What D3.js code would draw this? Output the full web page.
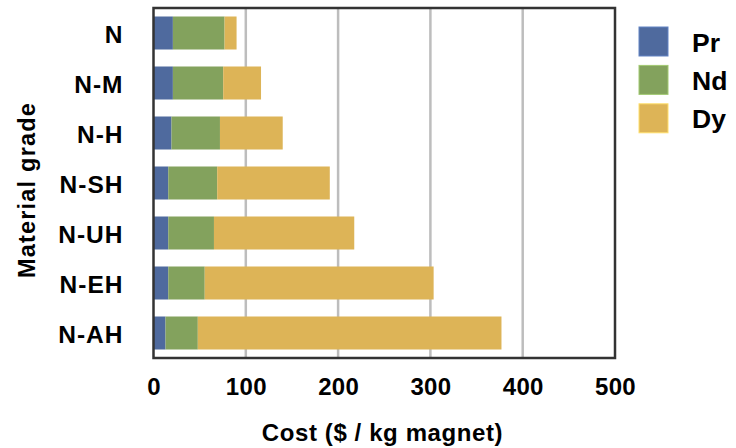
<!DOCTYPE html>
<html>
<head>
<meta charset="utf-8">
<script src="https://cdn.jsdelivr.net/npm/d3@7"></script>
<style>
  html, body { margin: 0; padding: 0; background: #fff; }
  svg { display: block; }
  text { font-family: "Liberation Sans", Arial, Helvetica, sans-serif; font-weight: bold; fill: #000; }
</style>
</head>
<body>
<svg id="chart" width="736" height="448"></svg>
<script>
const categories = ["N", "N-M", "N-H", "N-SH", "N-UH", "N-EH", "N-AH"];
const seriesNames = ["Pr", "Nd", "Dy"];
const prValues = [21, 21, 19.5, 16, 16, 16, 13];
const ndValues = [56, 54.5, 52.5, 53, 49.5, 39.5, 35];
const dyValues = [13, 41, 68, 122, 152, 248, 329];
const xTicks = [0, 100, 200, 300, 400, 500];
const colors = ["#4f6a9e", "#83a25d", "#ddb457"];
const xTitle = "Cost ($ / kg magnet)";
const yTitle = "Material grade";

const table = categories.map((c, i) => ({ grade: c, Pr: prValues[i], Nd: ndValues[i], Dy: dyValues[i] }));
const stacked = d3.stack().keys(seriesNames)(table);

const svg = d3.select("#chart");
const plot = { left: 153.5, right: 615, top: 8, bottom: 358 };

const x = d3.scaleLinear().domain([0, 500]).range([plot.left, plot.right]);
const y = d3.scaleBand().domain(categories).range([plot.top, plot.bottom]).paddingInner(0.34).paddingOuter(0.17);
const color = d3.scaleOrdinal().domain(seriesNames).range(colors);

// gridlines
svg.append("g")
  .selectAll("line")
  .data(xTicks.filter(t => t > 0 && t < 500))
  .join("line")
  .attr("x1", d => x(d)).attr("x2", d => x(d))
  .attr("y1", plot.top).attr("y2", plot.bottom)
  .attr("stroke", "#bdbdbd").attr("stroke-width", 2.5);

// bars
svg.append("g")
  .selectAll("g")
  .data(stacked)
  .join("g")
  .attr("fill", d => color(d.key))
  .selectAll("rect")
  .data(d => d)
  .join("rect")
  .attr("x", d => x(d[0]))
  .attr("width", d => x(d[1]) - x(d[0]))
  .attr("y", d => y(d.data.grade))
  .attr("height", y.bandwidth());

// frame
svg.append("rect")
  .attr("x", plot.left).attr("y", plot.top)
  .attr("width", plot.right - plot.left).attr("height", plot.bottom - plot.top)
  .attr("fill", "none").attr("stroke", "#333").attr("stroke-width", 2.5);

// x axis
const xAxis = d3.axisBottom(x).tickValues(xTicks).tickSize(0).tickPadding(20);
const gx = svg.append("g").attr("transform", `translate(0,${plot.bottom})`).call(xAxis);
gx.select(".domain").remove();
gx.selectAll("text").style("font-size", "24px").attr("dy", "0.71em").attr("y", 20).attr("letter-spacing", "0.3px");

// y axis
const yAxis = d3.axisLeft(y).tickSize(0).tickPadding(30);
const gy = svg.append("g").attr("transform", `translate(${plot.left},0)`).call(yAxis);
gy.select(".domain").remove();
gy.selectAll("text").style("font-size", "24.5px").attr("letter-spacing", "1px").attr("dy", "0.42em");

// axis titles
svg.append("text")
  .attr("x", 382.5).attr("y", 441)
  .attr("text-anchor", "middle").style("font-size", "24px").attr("letter-spacing", "0.6px")
  .text(xTitle);

svg.append("text")
  .attr("transform", `translate(35,190) rotate(-90)`)
  .attr("text-anchor", "middle").style("font-size", "23.5px").attr("letter-spacing", "1.2px")
  .text(yTitle);

// legend
const legend = svg.append("g").attr("transform", "translate(639,27)");
const li = legend.selectAll("g").data(seriesNames).join("g")
  .attr("transform", (d, i) => `translate(0,${i * 38.4})`);
li.append("rect").attr("width", 29).attr("height", 29)
  .attr("fill", d => color(d))
  .attr("stroke", d => d3.color(color(d)).brighter(0.6)).attr("stroke-width", 1);
li.append("text").attr("x", 53).attr("y", 14.5).attr("dy", "0.38em")
  .style("font-size", "26.5px").text(d => d);
</script>
</body>
</html>
